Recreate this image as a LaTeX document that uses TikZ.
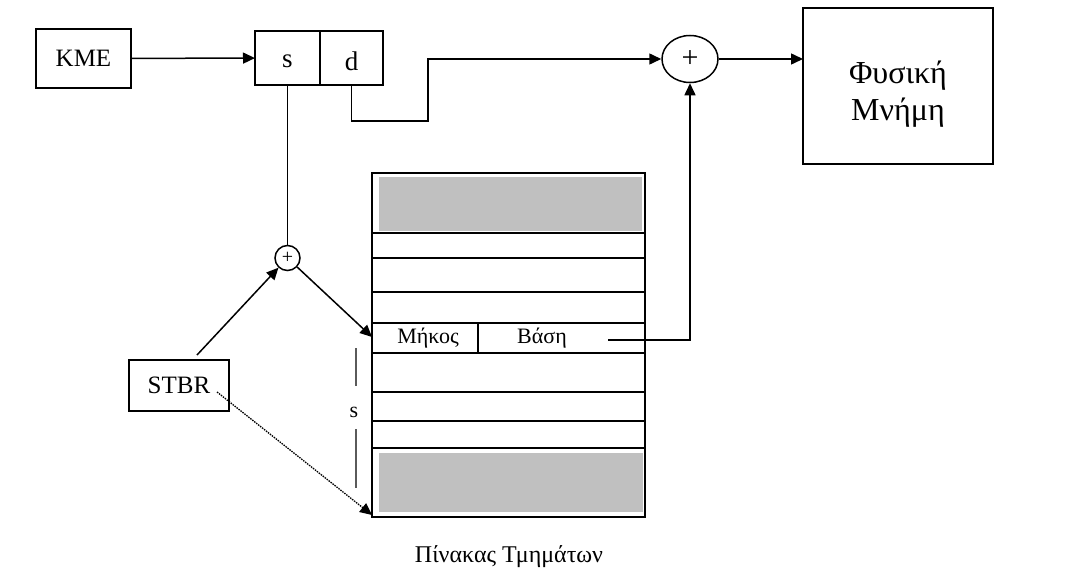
\documentclass[tikz,border=0pt]{standalone}
\usepackage{fontspec}
\setmainfont{Liberation Serif}
\definecolor{cellGray}{RGB}{192,192,192}
\definecolor{lenGray}{RGB}{90,90,90}
\usetikzlibrary{arrows.meta,positioning,shapes.geometric}

\tikzset{
  boxNode/.style={draw, line width=1.5pt, inner sep=0pt, outer sep=0pt},
  conn/.style={line width=1.5pt, -{Triangle[length=12pt,width=11pt]}},
  wire/.style={line width=1.5pt},
  rowLine/.style={line width=1.4pt},
}

\begin{document}
\begin{tikzpicture}[x=1pt,y=-1pt]
\useasboundingbox (0,0) rectangle (1082,586);

% logical address
\node[boxNode, minimum width=95pt, minimum height=59pt, font=\fontsize{25}{30}\selectfont] (kme) at (83.5,58.5) {KME};
\node[boxNode, minimum width=65pt, minimum height=54pt, font=\fontsize{27}{30}\selectfont, text height=18pt, text depth=0pt] (sCell) at (287.5,58) {s};
\node[boxNode, minimum width=63pt, minimum height=54pt, font=\fontsize{27}{30}\selectfont, text height=25pt, text depth=0pt, right=0pt of sCell] (dCell) {d};

% adders and memory
\node[draw, ellipse, line width=1.5pt, minimum width=56pt, minimum height=47pt, inner sep=0pt, font=\fontsize{30}{30}\selectfont] (sum) at (690,59) {+};
\node[boxNode, minimum width=190pt, minimum height=156pt,
  label={[align=center, font=\fontsize{32}{37}\selectfont, yshift=-8pt]center:Φυσική\\Μνήμη}] (mem) at (898,86) {};
\node[draw, circle, line width=1.5pt, minimum size=25pt, inner sep=0pt, font=\fontsize{20}{20}\selectfont] (addr) at (287.5,258) {+};
\node[boxNode, minimum width=100pt, minimum height=51pt, font=\fontsize{25}{30}\selectfont] (stbr) at (179,385.5) {STBR};

% segment table
\fill[cellGray] (379,177) rectangle (642,231);
\fill[cellGray] (379,453) rectangle (643,512);
\node[boxNode, minimum width=273pt, minimum height=344pt] (tbl) at (508.5,345) {};
\foreach \ry in {233,258,292,323,353,392,421,448}
  \draw[rowLine] (372,\ry) -- (645,\ry);
\draw[rowLine] (478,323) -- (478,353);
\node[font=\fontsize{22}{26}\selectfont] (mikos) at (428,338) {Μήκος};
\node[font=\fontsize{22}{26}\selectfont] (vasi) at (542,338) {Βάση};
\node[font=\fontsize{24}{28}\selectfont] (tblName) at (509,557) {Πίνακας Τμημάτων};

% length marker
\node[font=\fontsize{22}{26}\selectfont] (sLen) at (354,412) {s};
\draw[lenGray, line width=1.6pt] (356,348) -- (356,386);
\draw[lenGray, line width=1.6pt] (356,429) -- (356,488);

\coordinate (bendD) at (428,121);
\coordinate (stbrTop) at (197,355);
\coordinate (rowIn) at (372,337);
\coordinate (stbrDot) at (217,392);
\coordinate (tblFoot) at (372,515);
\coordinate (baseOut) at (608,340);

% connectors
\draw[conn] (kme) -- (sCell);
\draw[conn] (dCell.south) |- (bendD) |- (sum.west);
\draw[conn] (sum) -- (sum -| mem.west);
\draw[wire] (sCell.south) -- (addr);
\draw[conn] (stbrTop) -- (addr);
\draw[conn] (addr) -- (rowIn);
\draw[conn, densely dotted, line width=1.3pt] (stbrDot) -- (tblFoot);
\draw[conn] (baseOut) -| (sum.south);
\end{tikzpicture}
\end{document}
